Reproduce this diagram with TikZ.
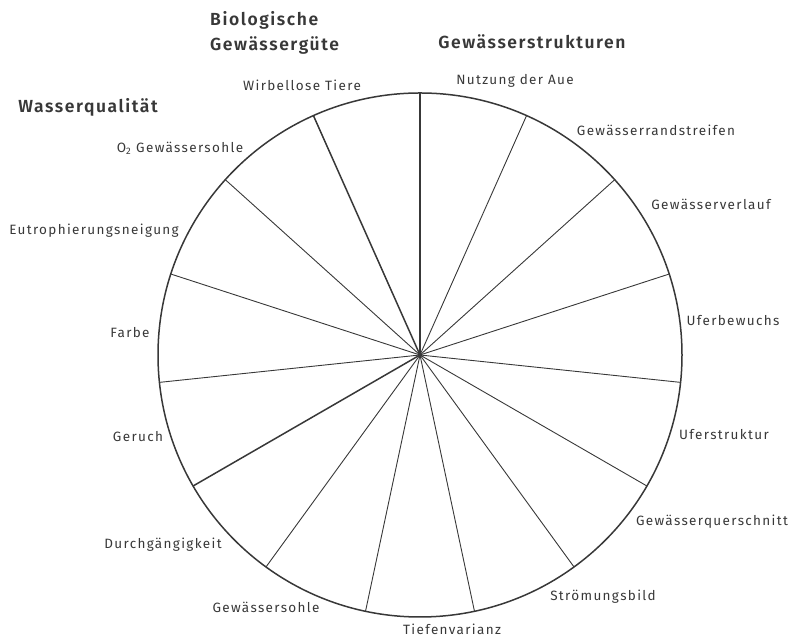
\documentclass[tikz,border=0pt]{standalone}
\usepackage{fontspec}
\usepackage{tikz}
\usetikzlibrary{calc}
\newfontfamily\labfont{Fira Sans}[LetterSpace=10]
\newfontfamily\headfont{Fira Sans SemiBold}[LetterSpace=9]
\definecolor{inkgray}{HTML}{383838}
\newcommand{\radius}{262}
\newcommand{\thin}{0.9pt}
\newcommand{\thick}{1.5pt}
\tikzset{
  lab/.style={font=\labfont\fontsize{13.5}{15}\selectfont, text=inkgray, anchor=mid, inner sep=0pt},
  head/.style={font=\headfont\fontsize{17.5}{25}\selectfont, text=inkgray, inner sep=0pt},
}

\begin{document}
\begin{tikzpicture}[x=1pt,y=1pt]
\useasboundingbox (0,0) rectangle (788,644);
\coordinate (m) at (420,289);
\coordinate (1) at ($(m)+(90:\radius)$);
\coordinate (2) at ($(m)+(114:\radius)$);
\coordinate (3) at ($(m)+(138:\radius)$);
\coordinate (4) at ($(m)+(162:\radius)$);
\coordinate (5) at ($(m)+(186:\radius)$);
\coordinate (6) at ($(m)+(210:\radius)$);
\coordinate (7) at ($(m)+(234:\radius)$);
\coordinate (8) at ($(m)+(258:\radius)$);
\coordinate (9) at ($(m)+(282:\radius)$);
\coordinate (10) at ($(m)+(306:\radius)$);
\coordinate (11) at ($(m)+(330:\radius)$);
\coordinate (12) at ($(m)+(354:\radius)$);
\coordinate (13) at ($(m)+(18:\radius)$);
\coordinate (14) at ($(m)+(42:\radius)$);
\coordinate (15) at ($(m)+(66:\radius)$);
%spokes
\draw[inkgray] [line width = \thick] (m) -- (1);
\draw[inkgray] [line width = \thick] (m) -- (2);
\draw[inkgray] [line width = \thin] (m) -- (3);
\draw[inkgray] [line width = \thin] (m) -- (4);
\draw[inkgray] [line width = \thin] (m) -- (5);
\draw[inkgray] [line width = \thick] (m) -- (6);
\draw[inkgray] [line width = \thin] (m) -- (7);
\draw[inkgray] [line width = \thin] (m) -- (8);
\draw[inkgray] [line width = \thin] (m) -- (9);
\draw[inkgray] [line width = \thin] (m) -- (10);
\draw[inkgray] [line width = \thin] (m) -- (11);
\draw[inkgray] [line width = \thin] (m) -- (12);
\draw[inkgray] [line width = \thin] (m) -- (13);
\draw[inkgray] [line width = \thin] (m) -- (14);
\draw[inkgray] [line width = \thin] (m) -- (15);
\fill[inkgray] (m) circle (2);
%rim
\draw[inkgray] [line width = \thick] (m) circle (\radius);
%groups
\node[head] (wq) at (88,537) {Wasserqualit\"at};
\node[head, anchor=west, align=left] (bg) at (210,611) {Biologische\\Gew\"asserg\"ute};
\node[head] (gs) at (532,602) {Gew\"asserstrukturen};
%sectors
\node[lab] (a1) at (515,562) {Nutzung der Aue};
\node[lab] (a2) at (656,511) {Gew\"asserrandstreifen};
\node[lab] (a3) at (711,437) {Gew\"asserverlauf};
\node[lab] (a4) at (733,321) {Uferbewuchs};
\node[lab] (a5) at (724,207) {Uferstruktur};
\node[lab] (a6) at (712,121) {Gew\"asserquerschnitt};
\node[lab] (a7) at (603,46) {Str\"omungsbild};
\node[lab] (a8) at (452,12) {Tiefenvarianz};
\node[lab] (a9) at (266,34) {Gew\"assersohle};
\node[lab] (a10) at (163,98) {Durchg\"angigkeit};
\node[lab] (a11) at (138,205) {Geruch};
\node[lab] (a12) at (130,309) {Farbe};
\node[lab] (a13) at (94,412) {Eutrophierungsneigung};
\node[lab] (a14) at (180,494) {O\textsubscript{2} Gew\"assersohle};
\node[lab] (a15) at (302,556) {Wirbellose Tiere};
\end{tikzpicture}
\end{document}
